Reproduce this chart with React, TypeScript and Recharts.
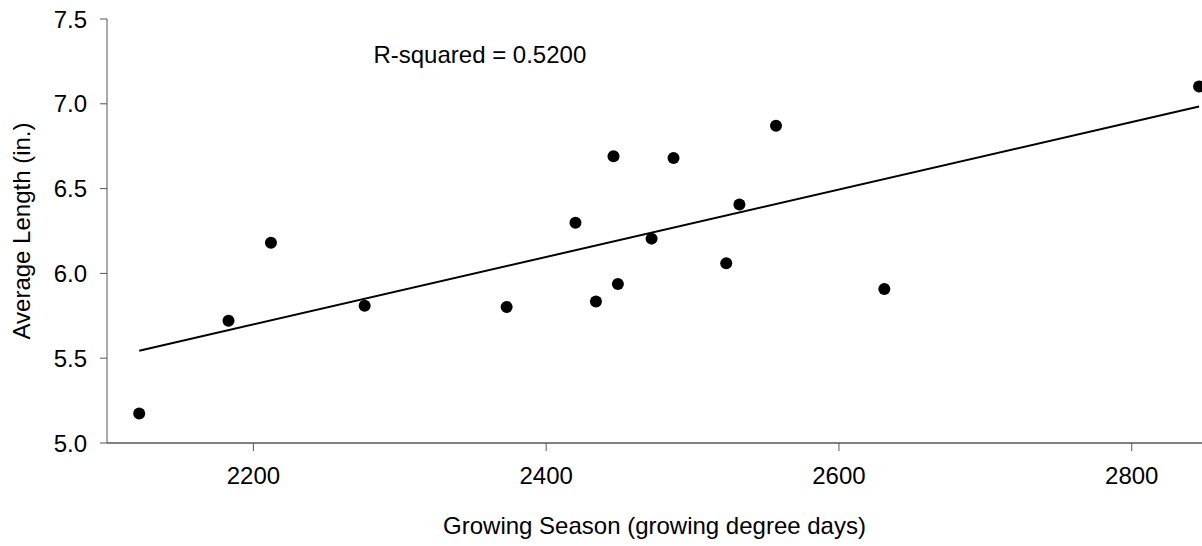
import React from 'react';
import {
    ScatterChart, Scatter, XAxis, YAxis, ReferenceDot
} from 'recharts';

// growing degree days for each site
const growingDays = [2122, 2183, 2212, 2276, 2373, 2420, 2434, 2446, 2449, 2472, 2487, 2523, 2532, 2557, 2631, 2846];
// average length (in.)
const avgLength = [5.174, 5.721, 6.181, 5.809, 5.802, 6.299, 5.835, 6.691, 5.937, 6.205, 6.681, 6.060, 6.406, 6.870, 5.908, 7.102];

// end points of the fitted line
const fitDays = [2122, 2846];
const fitLength = [5.544, 6.984];

const xTicks = [2200, 2400, 2600, 2800];
const yTicks = [5.0, 5.5, 6.0, 6.5, 7.0, 7.5];

const rSquaredText = 'R-squared = 0.5200';

const FONT = 'Liberation Sans, Arial, sans-serif';

const points = growingDays.map((d, i) => ({x: d, y: avgLength[i]}));
const fitLine = fitDays.map((d, i) => ({x: d, y: fitLength[i]}));

const Dot = (props: any) => {
    const {cx, cy} = props;
    return <circle cx={cx} cy={cy} r={6} fill="#000" />;
}

const NoDot = () => <g />;

const YTitle = (props: any) => {
    const {viewBox} = props;
    const x = viewBox.x + 21;
    const y = viewBox.y + viewBox.height / 2;
    return <text x={x} y={y} transform={`rotate(-90, ${x}, ${y})`} textAnchor="middle" dominantBaseline="central"
                 fontSize={24} fontFamily={FONT} fill="#000">Average Length (in.)</text>
}

const XTitle = (props: any) => {
    const {viewBox} = props;
    return <text x={viewBox.x + viewBox.width / 2} y={viewBox.y + 91} textAnchor="middle"
                 fontSize={24} fontFamily={FONT} fill="#000">Growing Season (growing degree days)</text>
}

const RLabel = (props: any) => {
    const {viewBox} = props;
    return <text x={viewBox.x} y={viewBox.y} textAnchor="start" dominantBaseline="central"
                 fontSize={24} fontFamily={FONT} fill="#000">{rSquaredText}</text>
}

const App = () => {
    return (
        <div style={{position: 'absolute', left: 0, top: 0, width: 1202, height: 546, overflow: 'hidden', background: '#fff'}}>
            <ScatterChart width={1202} height={546} margin={{top: 19, right: 0, bottom: 0, left: 0}}>
                <XAxis type="number" dataKey="x" domain={[2100, 2848]} ticks={xTicks} allowDataOverflow
                       height={103} stroke="#000" tickSize={8} tickMargin={16}
                       tickLine={{stroke: '#555'}}
                       tick={{fill: '#000', fontSize: 24, fontFamily: FONT}}
                       label={<XTitle />} />
                <YAxis type="number" dataKey="y" domain={[5, 7.5]} ticks={yTicks} allowDataOverflow
                       width={107} stroke="#555" tickSize={7} tickMargin={13}
                       tickFormatter={(v: number) => v.toFixed(1)}
                       tick={{fill: '#000', fontSize: 24, fontFamily: FONT}}
                       label={<YTitle />} />
                <Scatter data={fitLine} line={{stroke: '#000', strokeWidth: 2}} shape={<NoDot />}
                         isAnimationActive={false} legendType="none" />
                <Scatter data={points} shape={<Dot />} isAnimationActive={false} legendType="none" />
                <ReferenceDot x={2282} y={7.29} r={0} fill="none" stroke="none" label={<RLabel />}
                              ifOverflow="visible" />
            </ScatterChart>
        </div>
    );
}

export default App;
